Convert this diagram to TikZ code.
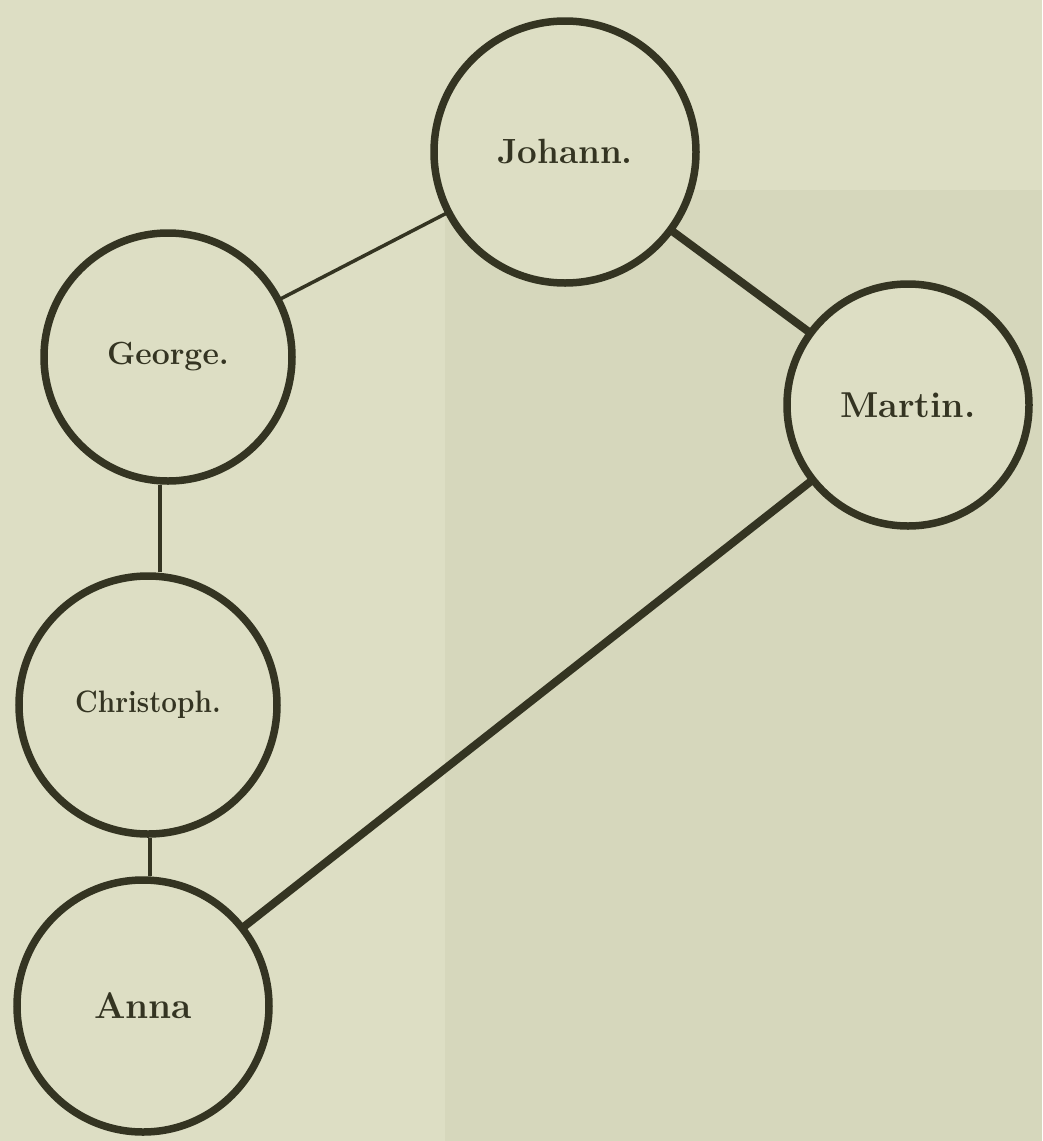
\documentclass[tikz,border=0pt]{standalone}
\definecolor{paper}{RGB}{221,222,196}
\definecolor{bleed}{RGB}{214,215,188}
\definecolor{ink}{RGB}{52,52,34}
\begin{document}
\begin{tikzpicture}[x=1pt,y=-1pt,
  person/.style={circle,draw=ink,fill=paper,line width=7.5pt,text=ink,inner sep=0pt},
  fs/.style={font=\fontsize{#1}{#1}\selectfont\bfseries},
  thin/.style={draw=ink,line width=3.5pt},
  thick/.style={draw=ink,line width=8pt}]
\fill[paper] (0,0) rectangle (1042,1141);
\fill[bleed] (445,190) rectangle (1042,1141);
\useasboundingbox (0,0) rectangle (1042,1141);
\draw[thin] (168,357) -- (565,152);
\draw[thick] (565,152) -- (908,405);
\draw[thick] (143,1006) -- (908,405);
\node[person,fs=35,minimum size=262pt] (johann) at (565,152) {Johann.};
\node[person,fs=32,minimum size=248pt] (george) at (168,357) {George.};
\node[person,fs=36,minimum size=242pt] (martin) at (908,405) {Martin.};
\node[person,fs=31,minimum size=258pt] (christoph) at (148,705) {\scalebox{0.9}[1]{\fontsize{31}{31}\selectfont\bfseries Christoph.}};
\node[person,fs=37,minimum size=252pt] (anna) at (143,1006) {Anna};
\draw[thin] (george.south) ++(-8,0) coordinate (gs) -- (gs |- christoph.north);
\draw[thin] (christoph.south) ++(2,0) coordinate (cs) -- (cs |- anna.north);
\end{tikzpicture}
\end{document}
